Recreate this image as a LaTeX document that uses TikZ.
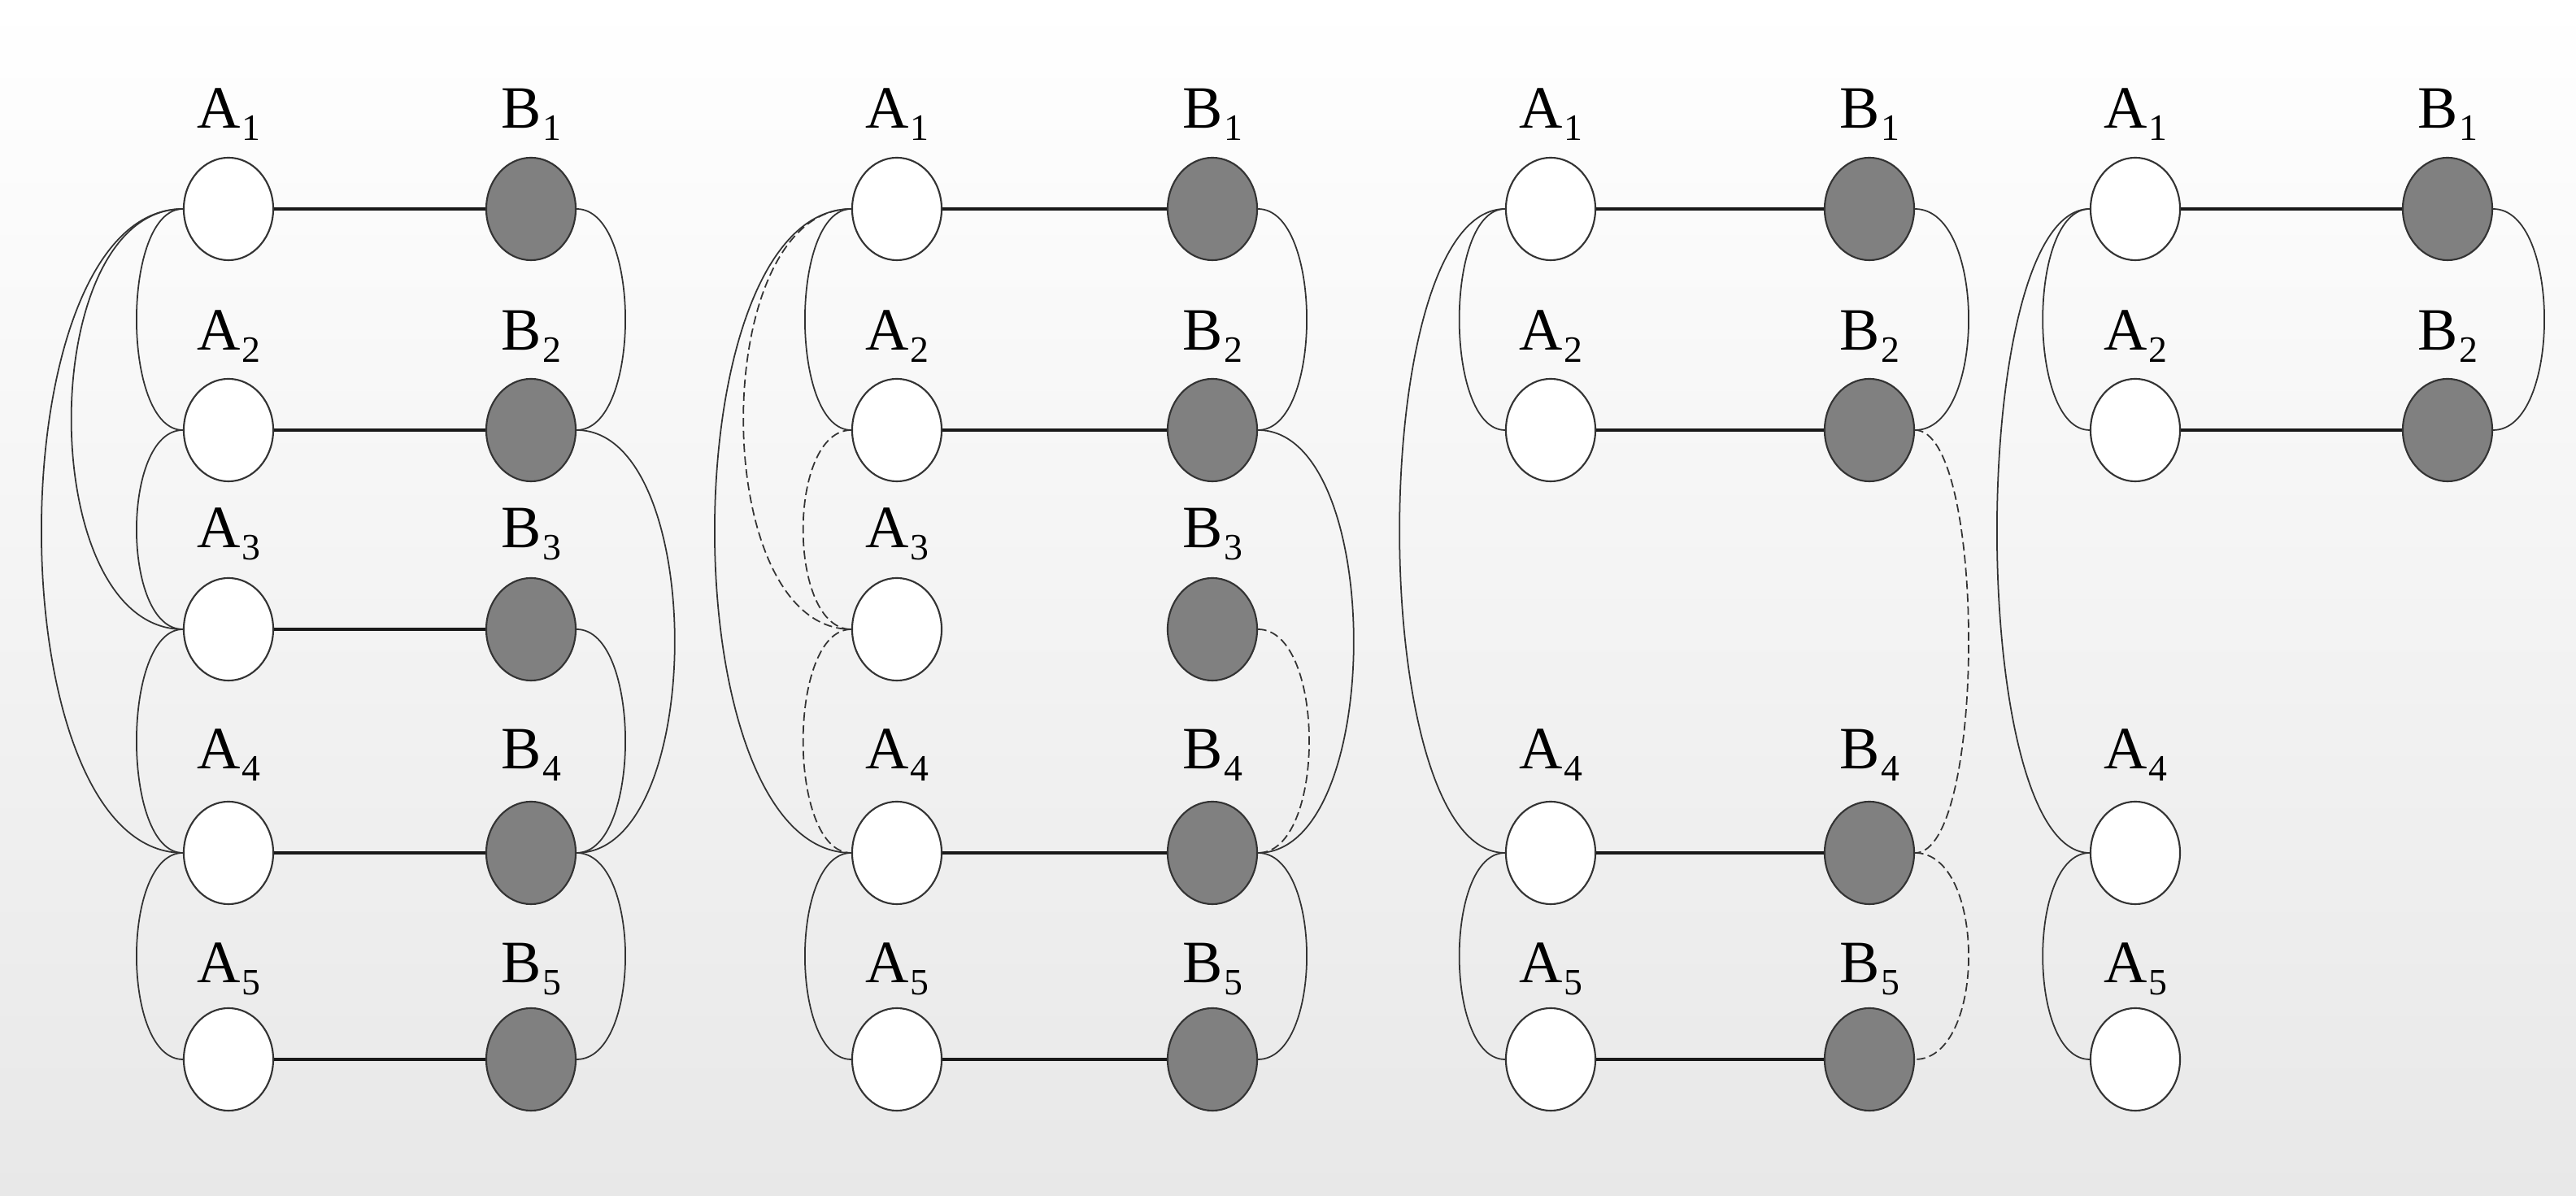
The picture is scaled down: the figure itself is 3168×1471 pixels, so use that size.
\documentclass[tikz,border=0pt]{standalone}
\usepackage{fontspec}
\setmainfont{Liberation Serif}
\usetikzlibrary{calc}
\newcommand{\lbl}[2]{#1\kern0.5pt\raisebox{-0.45ex}{\fontsize{13}{13}\selectfont #2}}
\begin{document}
\begin{tikzpicture}[x=0.01cm,y=-0.01cm,
  an/.style={ellipse,draw=black!80,line width=0.6pt,fill=white,minimum width=1.1cm,minimum height=1.26cm,inner sep=0pt},
  bn/.style={an,fill=black!50},
  lab/.style={font=\fontsize{21}{24}\selectfont,inner sep=0pt},
  hl/.style={line width=0.9pt,black!90},
  arc/.style={line width=0.5pt,black!80},
  dsh/.style={arc,dashed,dash pattern=on 3pt off 1.5pt}]
\usetikzlibrary{shapes.geometric}
\shade[top color=white,bottom color=black!9] (0,0) rectangle (3168,1471);
\useasboundingbox (0,0) rectangle (3168,1471);
% panels
\def\rows{1/257/141,2/529/414,3/774/657,4/1049/929,5/1303/1192}
\foreach \p/\ax/\bx/\skip in {1/281/653/0,2/1103/1491/0,3/1907/2299/3,4/2626/3010/3}{
  \foreach \r/\y/\ly in \rows{
    \ifnum\r=\skip\else
      \node[an] (p\p a\r) at (\ax,\y) {};
      \node[lab] (p\p la\r) at (\ax,\ly) {\lbl{A}{\r}};
    \fi
  }
}
\foreach \p/\bx/\last in {1/653/5,2/1491/5,3/2299/5,4/3010/2}{
  \foreach \r/\y/\ly in \rows{
    \ifnum\r>\last\else\ifnum\p=3 \ifnum\r=3 \else
      \node[bn] (p\p b\r) at (\bx,\y) {};
      \node[lab] (p\p lb\r) at (\bx,\ly) {\lbl{B}{\r}};
    \fi\else
      \node[bn] (p\p b\r) at (\bx,\y) {};
      \node[lab] (p\p lb\r) at (\bx,\ly) {\lbl{B}{\r}};
    \fi\fi
  }
}
% horizontal edges
\foreach \a/\b in {p1a1/p1b1,p1a2/p1b2,p1a3/p1b3,p1a4/p1b4,p1a5/p1b5,
  p2a1/p2b1,p2a2/p2b2,p2a4/p2b4,p2a5/p2b5,
  p3a1/p3b1,p3a2/p3b2,p3a4/p3b4,p3a5/p3b5,
  p4a1/p4b1,p4a2/p4b2}
  \draw[hl] (\a) -- (\b);
% left arcs: from/to/control distance
\foreach \s/\a/\b/\d in {arc/p1a1/p1a2/76,arc/p1a1/p1a3/183,arc/p1a1/p1a4/232,arc/p1a2/p1a3/76,arc/p1a3/p1a4/76,arc/p1a4/p1a5/76,
  arc/p2a1/p2a2/76,dsh/p2a1/p2a3/177,arc/p2a1/p2a4/224,dsh/p2a2/p2a3/79,dsh/p2a3/p2a4/79,arc/p2a4/p2a5/76,
  arc/p3a1/p3a2/75,arc/p3a1/p3a4/173,arc/p3a4/p3a5/75,
  arc/p4a1/p4a2/77,arc/p4a1/p4a4/152,arc/p4a4/p4a5/77}
  \draw[\s] (\a.west) .. controls +(-\d,0) and +(-\d,0) .. (\b.west);
% right arcs
\foreach \s/\a/\b/\d in {arc/p1b1/p1b2/80,arc/p1b2/p1b4/161,arc/p1b3/p1b4/80,arc/p1b4/p1b5/80,
  arc/p2b1/p2b2/80,arc/p2b2/p2b4/157,dsh/p2b3/p2b4/84,arc/p2b4/p2b5/80,
  arc/p3b1/p3b2/88,dsh/p3b2/p3b4/88,dsh/p3b4/p3b5/88,
  arc/p4b1/p4b2/84}
  \draw[\s] (\a.east) .. controls +(\d,0) and +(\d,0) .. (\b.east);
\end{tikzpicture}
\end{document}
